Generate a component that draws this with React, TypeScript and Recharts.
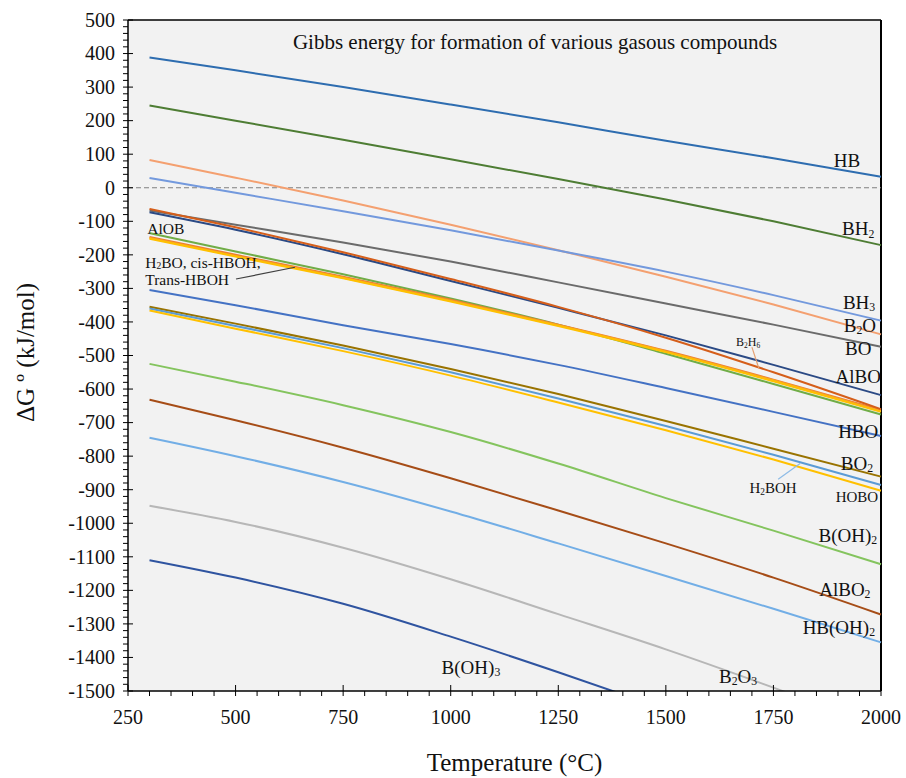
import React from 'react';
import { LineChart, Line, XAxis, YAxis, CartesianGrid, ReferenceLine, ReferenceDot } from 'recharts';

const FONT = '"Liberation Serif", "Times New Roman", serif';

// Temperatures (°C) at which the curves were read
const TEMPS = [300, 500, 750, 1000, 1250, 1500, 1750, 2000];

// ΔG° (kJ/mol) per species
const HB = [388, 350, 300, 248, 195, 140, 88, 33];
const BH2 = [245, 200, 143, 85, 26, -35, -100, -171];
const B2O = [83, 30, -38, -110, -186, -265, -348, -437];
const BH3 = [29, -15, -70, -127, -187, -250, -320, -396];
const BO = [-68, -110, -163, -220, -282, -345, -408, -474];
const AlBO = [-73, -125, -198, -278, -358, -440, -528, -618];
const B2H6 = [-63, -118, -192, -272, -355, -447, -550, -660];
const AlOB = [-135, -190, -258, -330, -408, -495, -585, -676];
const H2BO = [-147, -200, -265, -334, -408, -486, -572, -662];
const cisHBOH = [-150, -203, -268, -337, -410, -488, -574, -665];
const transHBOH = [-152, -205, -270, -339, -412, -490, -577, -668];
const HBO = [-305, -350, -410, -466, -528, -597, -668, -740];
const BO2 = [-355, -405, -470, -540, -615, -695, -778, -861];
const H2BOH = [-360, -412, -478, -550, -628, -710, -796, -886];
const HOBO = [-366, -420, -487, -560, -640, -723, -810, -903];
const BOH2 = [-525, -578, -648, -728, -822, -925, -1022, -1122];
const AlBO2 = [-632, -693, -775, -866, -962, -1060, -1162, -1272];
const HBOH2 = [-745, -800, -877, -965, -1060, -1157, -1255, -1355];
const B2O3 = [-948, -996, -1073, -1167, -1271, -1376, -1490, -1610];
const BOH3 = [-1110, -1162, -1240, -1338, -1444, -1555, -1668, -1785];

// Axis ticks
const X_MAJOR = [250, 500, 750, 1000, 1250, 1500, 1750, 2000];
const X_MINOR_STEP = 50;
const Y_MAJOR = [-1500, -1400, -1300, -1200, -1100, -1000, -900, -800, -700, -600, -500, -400, -300, -200, -100, 0, 100, 200, 300, 400, 500];
const Y_MINOR_STEP = 20;

const X_TICKS: number[] = [];
for (let v = X_MAJOR[0]; v <= X_MAJOR[X_MAJOR.length - 1]; v += X_MINOR_STEP) X_TICKS.push(v);
const Y_TICKS: number[] = [];
for (let v = Y_MAJOR[0]; v <= Y_MAJOR[Y_MAJOR.length - 1]; v += Y_MINOR_STEP) Y_TICKS.push(v);

type S = { key: string; values: number[]; color: string };
const SERIES: S[] = [
  { key: 'HB', values: HB, color: '#2E6DB0' },
  { key: 'BH2', values: BH2, color: '#4E7D34' },
  { key: 'B2O', values: B2O, color: '#F4A070' },
  { key: 'BH3', values: BH3, color: '#7399DD' },
  { key: 'BO', values: BO, color: '#6B6B6B' },
  { key: 'AlOB', values: AlOB, color: '#70AD47' },
  { key: 'H2BO', values: H2BO, color: '#ED7D31' },
  { key: 'cisHBOH', values: cisHBOH, color: '#F7A823' },
  { key: 'transHBOH', values: transHBOH, color: '#FFC000' },
  { key: 'AlBO', values: AlBO, color: '#2B4A85' },
  { key: 'B2H6', values: B2H6, color: '#D55E1A' },
  { key: 'HBO', values: HBO, color: '#4472C4' },
  { key: 'BO2', values: BO2, color: '#997300' },
  { key: 'H2BOH', values: H2BOH, color: '#5B9BD5' },
  { key: 'HOBO', values: HOBO, color: '#FFC000' },
  { key: 'BOH2', values: BOH2, color: '#84C45E' },
  { key: 'AlBO2', values: AlBO2, color: '#A64D17' },
  { key: 'HBOH2', values: HBOH2, color: '#72AEE6' },
  { key: 'B2O3', values: B2O3, color: '#B7B7B7' },
  { key: 'BOH3', values: BOH3, color: '#2F54A0' },
];

const DATA = TEMPS.map((t, i) => {
  const row: Record<string, number> = { T: t };
  SERIES.forEach((s) => {
    row[s.key] = s.values[i];
  });
  return row;
});

// Text annotations: [text, T, ΔG, fontSize, anchor]
type Ann = [string, number, number, number, 'start' | 'middle' | 'end'];
const ANNOTATIONS: Ann[] = [
  ['HB', 1921, 82, 19, 'middle'],
  ['BH2', 1947, -123, 19, 'middle'],
  ['BH3', 1949, -341, 19, 'middle'],
  ['B2O', 1951, -410, 19, 'middle'],
  ['BO', 1947, -480, 19, 'middle'],
  ['AlBO', 1947, -562, 19, 'middle'],
  ['B2H6', 1691, -460, 12, 'middle'],
  ['HBO', 1947, -726, 19, 'middle'],
  ['BO2', 1944, -821, 19, 'middle'],
  ['H2BOH', 1749, -896, 15, 'middle'],
  ['HOBO', 1944, -922, 15, 'middle'],
  ['B(OH)2', 1923, -1036, 19, 'middle'],
  ['AlBO2', 1916, -1197, 19, 'middle'],
  ['HB(OH)2', 1902, -1310, 19, 'middle'],
  ['B(OH)3', 1047, -1430, 19, 'middle'],
  ['B2O3', 1668, -1456, 19, 'middle'],
  ['AlOB', 338, -123, 15.5, 'middle'],
  ['H2BO, cis-HBOH,', 290, -222, 15.5, 'start'],
  ['Trans-HBOH', 290, -275, 15.5, 'start'],
];

// Leader lines: [T1, G1, T2, G2, color]
type Leader = [number, number, number, number, string];
const LEADERS: Leader[] = [
  [501, -272, 638, -237, '#404040'],
  [1700, -475, 1716, -538, '#E4A071'],
  [1761, -869, 1812, -822, '#8DBBE6'],
];

const TITLE = 'Gibbs energy for formation of various gasous compounds';
const TITLE_POS = [1196, 434];

function richText(s: string, fontSize: number) {
  const parts: { t: string; sub: boolean }[] = [];
  for (const ch of s) {
    const sub = /[0-9]/.test(ch);
    const last = parts[parts.length - 1];
    if (last && last.sub === sub) last.t += ch;
    else parts.push({ t: ch, sub });
  }
  const shift = fontSize * 0.12;
  let cur = 0;
  return parts.map((p, i) => {
    const target = p.sub ? shift : 0;
    const dy = target - cur;
    cur = target;
    return (
      <tspan key={i} dy={dy} fontSize={p.sub ? fontSize * 0.62 : fontSize}>
        {p.t}
      </tspan>
    );
  });
}

const makeLabel = (text: string, size: number, anchor: string) => (props: any) => {
  const vb = props.viewBox || {};
  const x = (vb.x || 0) + (vb.width || 0) / 2;
  const y = (vb.y || 0) + (vb.height || 0) / 2;
  return (
    <text x={x} y={y + size * 0.34} textAnchor={anchor} fontFamily={FONT} fontSize={size} fill="#111">
      {richText(text, size)}
    </text>
  );
};

const YTick = (props: any) => {
  const { x, y, payload } = props;
  const v = payload.value;
  const major = v % 100 === 0;
  return (
    <g>
      <line x1={x - 5} x2={major ? x + 5 : x} y1={y} y2={y} stroke="#000" strokeWidth={1} />
      {major && (
        <text x={x - 13} y={y} dy="0.34em" textAnchor="end" fontFamily={FONT} fontSize={20} fill="#111">
          {v}
        </text>
      )}
    </g>
  );
};

const XTick = (props: any) => {
  const { x, y, payload } = props;
  const v = payload.value;
  const major = v % 250 === 0;
  return (
    <g>
      <line x1={x} x2={x} y1={major ? y - 6 : y} y2={y + 5} stroke="#000" strokeWidth={1} />
      {major && (
        <text x={x} y={y + 33} textAnchor="middle" fontFamily={FONT} fontSize={20} fill="#111">
          {v}
        </text>
      )}
    </g>
  );
};

const YTitle = (props: any) => {
  const vb = props.viewBox || {};
  const cx = 25;
  const cy = (vb.y || 0) + (vb.height || 0) / 2 - 3;
  return (
    <text
      x={cx}
      y={cy}
      dy="0.35em"
      textAnchor="middle"
      transform={`rotate(-90 ${cx} ${cy})`}
      fontFamily={FONT}
      fontSize={25}
      fill="#111"
    >
      ΔG º (kJ/mol)
    </text>
  );
};

const XTitle = (props: any) => {
  const vb = props.viewBox || {};
  const cx = (vb.x || 0) + (vb.width || 0) / 2 + 10;
  const cy = (vb.y || 0) + 80;
  return (
    <text x={cx} y={cy} textAnchor="middle" fontFamily={FONT} fontSize={25} fill="#111">
      Temperature (°C)
    </text>
  );
};

export default function App() {
  return (
    <div style={{ position: 'absolute', left: 0, top: 0, width: 906, height: 778, background: '#fff' }}>
      <LineChart width={906} height={778} data={DATA} margin={{ top: 20, right: 25, bottom: 0, left: 0 }}>
        <CartesianGrid fill="#F2F2F2" fillOpacity={1} horizontal={false} vertical={false} />
        <XAxis
          dataKey="T"
          type="number"
          domain={[250, 2000]}
          ticks={X_TICKS}
          interval={0}
          height={87}
          tickSize={0}
          tickMargin={0}
          tickLine={false}
          axisLine={{ stroke: '#000', strokeWidth: 1.5 }}
          tick={<XTick />}
          label={{ content: XTitle } as any}
        />
        <YAxis
          type="number"
          domain={[-1500, 500]}
          allowDataOverflow
          ticks={Y_TICKS}
          interval={0}
          width={128}
          tickSize={0}
          tickMargin={0}
          tickLine={false}
          axisLine={{ stroke: '#000', strokeWidth: 1.5 }}
          tick={<YTick />}
          label={{ content: YTitle } as any}
        />
        <ReferenceLine y={500} stroke="#000" strokeWidth={1.5} />
        <ReferenceLine x={2000} stroke="#000" strokeWidth={2} />
        <ReferenceLine y={0} stroke="#7F7F7F" strokeWidth={1} strokeDasharray="5 3" />
        {SERIES.map((s) => (
          <Line
            key={s.key}
            dataKey={s.key}
            type="monotone"
            stroke={s.color}
            strokeWidth={2}
            dot={false}
            activeDot={false}
            isAnimationActive={false}
          />
        ))}
        {LEADERS.map((l, i) => (
          <ReferenceLine
            key={'ld' + i}
            segment={[
              { x: l[0], y: l[1] },
              { x: l[2], y: l[3] },
            ]}
            stroke={l[4]}
            strokeWidth={1.2}
          />
        ))}
        {ANNOTATIONS.map((a, i) => (
          <ReferenceDot
            key={'an' + i}
            x={a[1]}
            y={a[2]}
            r={0}
            fill="none"
            stroke="none"
            label={makeLabel(a[0], a[3], a[4]) as any}
          />
        ))}
        <ReferenceDot
          x={TITLE_POS[0]}
          y={TITLE_POS[1]}
          r={0}
          fill="none"
          stroke="none"
          label={makeLabel(TITLE, 21, 'middle') as any}
        />
      </LineChart>
    </div>
  );
}
